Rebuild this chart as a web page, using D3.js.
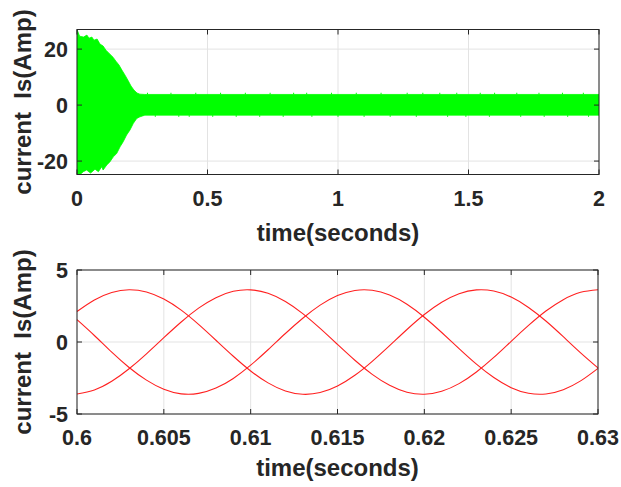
<!DOCTYPE html>
<html>
<head>
<meta charset="utf-8">
<script src="https://cdn.jsdelivr.net/npm/d3@7"></script>
<style>
  body { margin: 0; background: #fff; }
  text { font-family: "Liberation Sans", Arial, sans-serif; font-weight: bold; fill: #262626; }
</style>
</head>
<body>
<div id="chart-area"></div>
<script>
// top plot: envelope of the stator current
const upperTime = [0, 0.01, 0.025, 0.038, 0.046, 0.057, 0.065, 0.077, 0.088, 0.1, 0.111, 0.126, 0.138, 0.149, 0.161, 0.172, 0.184, 0.195, 0.207, 0.218, 0.23, 0.241, 0.26, 2];
const upperValue = [27, 24.6, 24.3, 25, 23.9, 24.3, 23.2, 23.6, 21.8, 21.1, 19.6, 18.2, 17.1, 15.7, 14.3, 12.5, 10.7, 8.9, 6.8, 5.4, 4.3, 3.9, 3.8, 3.8];
const lowerTime = [0, 0.005, 0.012, 0.024, 0.037, 0.052, 0.069, 0.082, 0.095, 0.1, 0.114, 0.126, 0.139, 0.152, 0.165, 0.177, 0.19, 0.203, 0.216, 0.229, 0.241, 0.26, 2];
const lowerValue = [-24.8, -25, -24.8, -23.8, -23.2, -24.3, -22.9, -23.8, -22, -23.2, -21.4, -20.3, -18.5, -17.3, -14.9, -13.1, -10.7, -8.9, -6.5, -4.75, -4.2, -3.6, -3.6];
const spikeUpTime = [0.27, 0.36, 0.455, 0.55, 0.645, 0.74, 0.83, 0.88, 0.975, 1.07, 1.165, 1.265, 1.325, 1.39, 1.455, 1.545, 1.6, 1.685, 1.77, 1.86, 1.94];
const spikeLoTime = [0.3, 0.39, 0.43, 0.52, 0.61, 0.7, 0.79, 0.9, 1.0, 1.1, 1.2, 1.3, 1.42, 1.49, 1.58, 1.7, 1.79, 1.88, 1.96];
const spikeUp = 4.4;
const spikeLo = -4.2;
const topXTicks = [0, 0.5, 1, 1.5, 2];
const topYTicks = [-20, 0, 20];

// bottom plot: three phase currents, zoomed
const zoomTime = [0.6, 0.601, 0.602, 0.603, 0.604, 0.605, 0.606, 0.607, 0.608, 0.609, 0.61, 0.611, 0.612, 0.613, 0.614, 0.615, 0.616, 0.617, 0.618, 0.619, 0.62, 0.621, 0.622, 0.623, 0.624, 0.625, 0.626, 0.627, 0.628, 0.629, 0.63];
const phaseA = [2.12, 2.92, 3.44, 3.63, 3.47, 2.98, 2.21, 1.22, 0.12, -0.99, -2.01, -2.84, -3.4, -3.63, -3.51, -3.05, -2.31, -1.34, -0.25, 0.87, 1.91, 2.76, 3.35, 3.62, 3.54, 3.12, 2.4, 1.46, 0.37, -0.75, -1.8];
const phaseB = [-3.61, -3.33, -2.73, -1.86, -0.82, 0.3, 1.39, 2.35, 3.08, 3.52, 3.62, 3.38, 2.81, 1.97, 0.94, -0.17, -1.27, -2.25, -3.01, -3.49, -3.63, -3.42, -2.89, -2.08, -1.07, 0.05, 1.15, 2.15, 2.94, 3.45, 3.63];
const phaseC = [1.55, 0.45, -0.71, -1.77, -2.65, -3.28, -3.6, -3.57, -3.2, -2.53, -1.61, -0.54, 0.59, 1.65, 2.56, 3.23, 3.58, 3.59, 3.26, 2.62, 1.72, 0.66, -0.46, -1.54, -2.47, -3.17, -3.56, -3.61, -3.31, -2.7, -1.83];
const botXTicks = [0.6, 0.605, 0.61, 0.615, 0.62, 0.625, 0.63];
const botYTicks = [-5, 0, 5];

const W = 621, H = 487;
const svg = d3
  .select("#chart-area")
  .append("svg")
  .attr("width", W)
  .attr("height", H);

function drawGrid(g, x, y, xTicks, yTicks) {
  const [x0, x1] = x.range();
  const [y0, y1] = y.range(); // y0 bottom, y1 top

  g.append("g")
    .selectAll("line")
    .data(xTicks)
    .join("line")
    .attr("x1", (d) => x(d)).attr("x2", (d) => x(d))
    .attr("y1", y1).attr("y2", y0)
    .attr("stroke", "#e3e3e3");
  g.append("g")
    .selectAll("line")
    .data(yTicks)
    .join("line")
    .attr("x1", x0).attr("x2", x1)
    .attr("y1", (d) => y(d)).attr("y2", (d) => y(d))
    .attr("stroke", "#e3e3e3");
}

function drawBox(g, x, y, xTicks, yTicks, xLabelY) {
  const [x0, x1] = x.range();
  const [y0, y1] = y.range();
  const tl = 5;

  g.append("rect")
    .attr("x", x0).attr("y", y1)
    .attr("width", x1 - x0).attr("height", y0 - y1)
    .attr("fill", "none")
    .attr("stroke", "#262626")
    .attr("stroke-width", 1);

  const ticks = g.append("g").attr("stroke", "#262626");
  xTicks.forEach((d) => {
    ticks.append("line").attr("x1", x(d)).attr("x2", x(d)).attr("y1", y0).attr("y2", y0 - tl);
    ticks.append("line").attr("x1", x(d)).attr("x2", x(d)).attr("y1", y1).attr("y2", y1 + tl);
  });
  yTicks.forEach((d) => {
    ticks.append("line").attr("x1", x0).attr("x2", x0 + tl).attr("y1", y(d)).attr("y2", y(d));
    ticks.append("line").attr("x1", x1).attr("x2", x1 - tl).attr("y1", y(d)).attr("y2", y(d));
  });

  g.append("g")
    .selectAll("text")
    .data(xTicks)
    .join("text")
    .attr("x", (d) => x(d))
    .attr("y", y0 + 31)
    .attr("text-anchor", "middle")
    .style("font-size", "21.5px")
    .text((d) => d);

  g.append("g")
    .selectAll("text")
    .data(yTicks)
    .join("text")
    .attr("x", x0 - 9)
    .attr("y", (d) => y(d) + 7.5)
    .attr("text-anchor", "end")
    .style("font-size", "21.5px")
    .text((d) => d);

  g.append("text")
    .attr("x", (x0 + x1) / 2)
    .attr("y", xLabelY)
    .attr("text-anchor", "middle")
    .style("font-size", "24px")
    .text("time(seconds)");

  g.append("text")
    .attr("transform", `translate(31, ${(y0 + y1) / 2}) rotate(-90)`)
    .attr("text-anchor", "middle")
    .style("font-size", "24px")
    .style("white-space", "pre")
    .text("current  Is(Amp)");
}

// ---- top plot
const xTop = d3.scaleLinear([0, 2], [77, 599]);
const yTop = d3.scaleLinear([-24.8, 27], [174.5, 29.5]);
const gTop = svg.append("g");
drawGrid(gTop, xTop, yTop, topXTicks, topYTicks);

svg.append("clipPath").attr("id", "clip-top")
  .append("rect").attr("x", 77).attr("y", 29.5).attr("width", 522).attr("height", 145);

const envelope = upperTime
  .map((t, i) => [t, upperValue[i]])
  .concat(lowerTime.map((t, i) => [t, lowerValue[i]]).reverse());

gTop.append("path")
  .attr("clip-path", "url(#clip-top)")
  .attr("d", d3.line().x((d) => xTop(d[0])).y((d) => yTop(d[1]))(envelope) + "Z")
  .attr("fill", "#00ff00")
  .attr("stroke", "#00ff00")
  .attr("stroke-width", 0.8);

gTop.append("g")
  .selectAll("line")
  .data(spikeUpTime)
  .join("line")
  .attr("x1", (d) => xTop(d)).attr("x2", (d) => xTop(d))
  .attr("y1", yTop(3.8)).attr("y2", yTop(spikeUp))
  .attr("stroke", "#00ff00");
gTop.append("g")
  .selectAll("line")
  .data(spikeLoTime)
  .join("line")
  .attr("x1", (d) => xTop(d)).attr("x2", (d) => xTop(d))
  .attr("y1", yTop(-3.6)).attr("y2", yTop(spikeLo))
  .attr("stroke", "#00ff00");

drawBox(gTop, xTop, yTop, topXTicks, topYTicks, 241);

// ---- bottom plot
const xBot = d3.scaleLinear([0.6, 0.63], [77, 598]);
const yBot = d3.scaleLinear([-5, 5], [414, 270]);
const gBot = svg.append("g");
drawGrid(gBot, xBot, yBot, botXTicks, botYTicks);

const phaseLine = d3
  .line()
  .x((d, i) => xBot(zoomTime[i]))
  .y((d) => yBot(d))
  .curve(d3.curveNatural);

gBot.append("g")
  .selectAll("path")
  .data([phaseA, phaseB, phaseC])
  .join("path")
  .attr("d", phaseLine)
  .attr("fill", "none")
  .attr("stroke", "#ff2020")
  .attr("stroke-width", 1.1);

drawBox(gBot, xBot, yBot, botXTicks, botYTicks, 476);
</script>
</body>
</html>
